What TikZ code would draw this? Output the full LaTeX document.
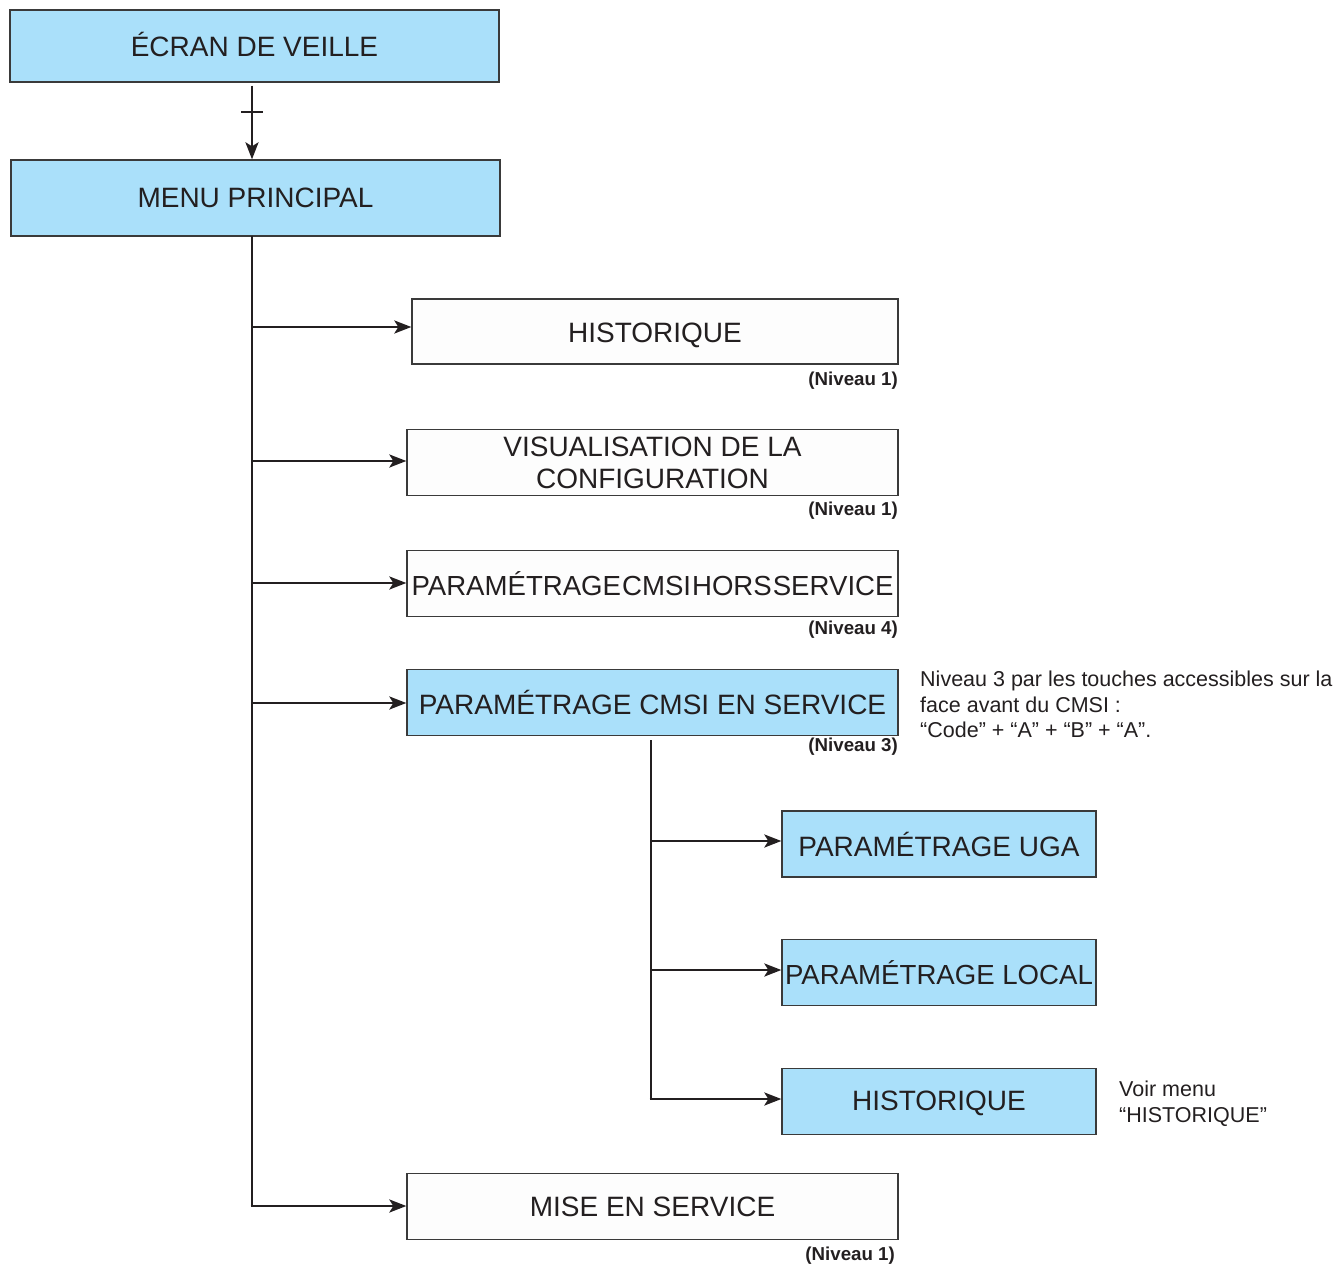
\documentclass[tikz,border=0pt]{standalone}
\usepackage{fontspec}
\setmainfont{Liberation Sans}
\usetikzlibrary{arrows.meta}
\definecolor{boxblue}{HTML}{AAE0FA}
\definecolor{boxwhite}{HTML}{FDFDFD}
\definecolor{ink}{HTML}{231F20}
\definecolor{edge}{HTML}{3A3A3A}
\tikzset{
  menubox/.style={draw=edge, line width=1.3pt, inner sep=0pt, align=center,
    text=ink, font=\fontsize{28}{32}\selectfont},
  bluebox/.style={menubox, fill=boxblue},
  whitebox/.style={menubox, fill=boxwhite},
  wide/.style={minimum width=491pt, minimum height=66pt},
  narrow/.style={minimum width=314pt, minimum height=66pt},
  niveau/.style={inner sep=0pt, anchor=east, text=ink, font=\fontsize{18.7}{20}\selectfont\bfseries},
  note/.style={inner sep=0pt, anchor=north west, align=left, text=ink, font=\fontsize{21.5}{25.5}\selectfont},
  conn/.style={draw=ink, line width=2.6pt},
  arr/.style={conn, -{Stealth[length=17pt, width=13pt, inset=4pt]}}
}
\begin{document}
\begin{tikzpicture}[x=1pt, y=-1pt]
\path[use as bounding box] (0,0) rectangle (1336,1265);

\node[bluebox, minimum width=489pt, minimum height=72pt] (ecran) at (254.5,46) {\raisebox{1.5pt}[\height][\depth]{ÉCRAN DE VEILLE}};
\node[bluebox, minimum width=489pt, minimum height=76pt] (menu) at (255.5,198) {MENU PRINCIPAL};

\node[whitebox, minimum width=486pt, minimum height=65pt] (hist) at (655,331.5) {\raisebox{-3.5pt}[\height][\depth]{HISTORIQUE}};
\node[whitebox, wide] (visu) at (652.5,462.5) {VISUALISATION DE LA\\CONFIGURATION};
\node[whitebox, wide] (hors) at (652.5,583.5) {\fontsize{27.6}{32}\selectfont PARAMÉTRAGE\hspace{1pt}CMSI\hspace{1pt}HORS\hspace{1pt}SERVICE};
\node[bluebox, wide] (ens) at (652.5,702.5) {PARAMÉTRAGE CMSI EN SERVICE};
\node[whitebox, wide] (mise) at (652.5,1206.5) {MISE EN SERVICE};

\node[bluebox, narrow] (uga) at (939,844) {PARAMÉTRAGE UGA};
\node[bluebox, narrow] (local) at (939,972.5) {\fontsize{27.6}{32}\selectfont PARAMÉTRAGE LOCAL};
\node[bluebox, narrow] (hist2) at (939,1101.5) {\raisebox{-2pt}[\height][\depth]{HISTORIQUE}};

\node[niveau] (n1) at (898,381) {(Niveau 1)};
\node[niveau] (n2) at (898,511) {(Niveau 1)};
\node[niveau] (n3) at (898,630) {(Niveau 4)};
\node[niveau] (n4) at (898,747) {(Niveau 3)};
\node[niveau] (n5) at (895,1256) {(Niveau 1)};

\node[note] (noteA) at (920,671) {Niveau 3 par les touches accessibles sur la\\face avant du CMSI :\\“Code” + “A” + “B” + “A”.};
\node[note] (noteB) at (1119,1081) {Voir menu\\“HISTORIQUE”};

% top arrow with tick
\coordinate (t1) at (241,112);
\coordinate (t2) at (263,112);
\draw[arr] (ecran.south -| 252,0) ++(0,3) -- (menu.north -| 252,0);
\draw[conn, line width=2.2pt] (t1) -- (t2);

% main trunk
\coordinate (trunkTop) at (252,236);
\coordinate (trunkBot) at (252,1206);
\draw[conn] (trunkTop) -- (trunkBot);
\draw[arr] (trunkTop |- 0,327) -- (hist.west |- 0,327);
\draw[arr] (trunkTop |- 0,461) -- (visu.west |- 0,461);
\draw[arr] (trunkTop |- 0,583) -- (hors.west |- 0,583);
\draw[arr] (trunkTop |- 0,703) -- (ens.west |- 0,703);
\draw[arr] ([xshift=-1.3pt]trunkBot) -- (mise.west |- 0,1206);

% sub trunk
\coordinate (subTop) at (651,740);
\coordinate (subBot) at (651,1099);
\draw[conn] (subTop) -- (subBot);
\draw[arr] (subTop |- 0,841) -- (uga.west |- 0,841);
\draw[arr] (subTop |- 0,970) -- (local.west |- 0,970);
\draw[arr] ([xshift=-1.3pt]subBot) -- (hist2.west |- 0,1099);
\end{tikzpicture}
\end{document}
